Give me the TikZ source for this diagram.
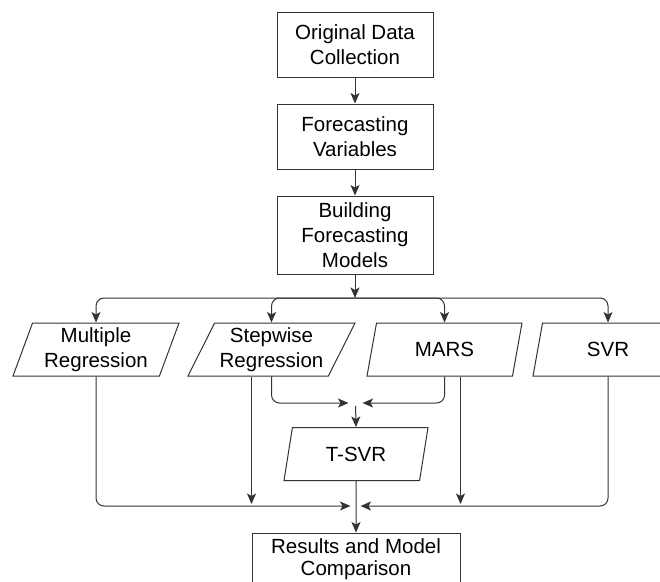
\documentclass[tikz,border=0pt]{standalone}
\usepackage{fontspec}
\setmainfont{Liberation Sans}
\usetikzlibrary{arrows.meta,positioning,shapes.geometric}
\tikzset{
flow/.style={>={Stealth[length=10.5pt,width=9pt,inset=2.5pt]},x=1pt,y=-1pt,
    node distance=26pt,line width=1pt},
stage/.style={rectangle,draw=black!80,minimum width=156pt,minimum height=65pt,
    align=center,inner sep=2pt,font=\fontsize{20.5}{25}\selectfont},
model/.style={trapezium,trapezium left angle=60,trapezium right angle=120,
    trapezium stretches body,draw=black!80,align=center,minimum height=53pt,
    inner sep=1pt,font=\fontsize{20.5}{25}\selectfont},
link/.style={->,draw=black!80,rounded corners=8pt},
}

\begin{document}
\begin{tikzpicture}[flow]
    \useasboundingbox (0,0) rectangle (660,581);

    \node[stage] (orig) at (355,44.5) {Original Data\\Collection};
    \node[stage] (vars) [below=of orig] {Forecasting\\Variables};
    \node[stage,minimum height=78pt] (build) [below=of vars] {Building\\Forecasting\\Models};

    \node[model,minimum width=166pt,trapezium left angle=67,trapezium right angle=113]
        (mult) at (96,349.5) {Multiple\\Regression};
    \node[model,minimum width=167pt] (step) at (271.5,349.5) {Stepwise\\Regression};
    \node[model,minimum width=155pt] (mars) at (444.5,349.5) {MARS};
    \node[model,minimum width=150pt] (svr) at (608,349.5) {SVR};
    \node[model,minimum width=144pt,trapezium left angle=63,trapezium right angle=117]
        (tsvr) at (356,454) {T-SVR};
    \node[stage,minimum width=208pt,minimum height=52pt,
        font=\fontsize{20.5}{22}\selectfont] (res) at (356,559)
        {Results and Model\\Comparison};

    \coordinate (split) at (355,298);
    \coordinate (join1) at (355.5,403);
    \coordinate (join2) at (355.5,506);

    \draw[link] (orig) -- (vars);
    \draw[link] (vars) -- (build);
    \draw[link] (build) -- (split);
    \foreach \m in {mult,step,mars,svr}
        \draw[link] (split) -| (\m.north);

    \draw[link,shorten >=7pt] (step.south) |- (join1);
    \draw[link,shorten >=7pt] (mars.south) |- (join1);
    \draw[link,shorten <=3pt] (join1) -- (tsvr.north);

    \draw[link,shorten >=5pt] (mult.south) |- (join2);
    \draw[link,shorten >=5pt] (svr.south) |- (join2);
    \draw[link,shorten >=2pt] (res.west |- step.south) -- (res.west |- join2);
    \draw[link,shorten >=2pt] (res.east |- mars.south) -- (res.east |- join2);
    \draw[link] (tsvr.south) -- (res.north);
\end{tikzpicture}
\end{document}
